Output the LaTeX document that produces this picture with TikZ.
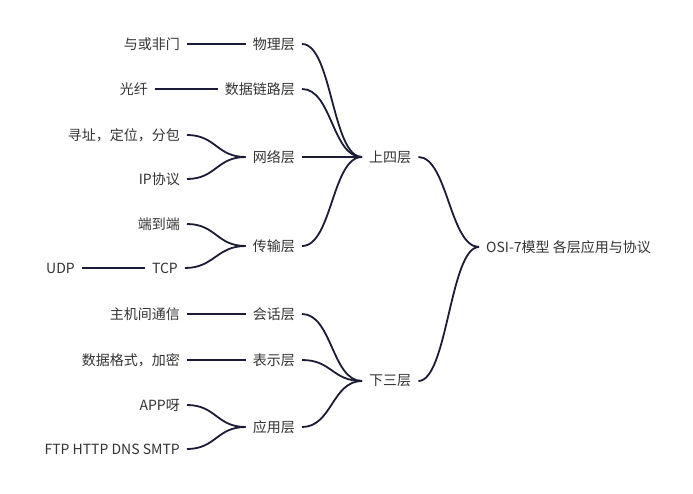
\documentclass[tikz,border=0pt]{standalone}
\usepackage{fontspec}
\setmainfont{Noto Sans CJK SC}
\definecolor{linec}{HTML}{1C1C36}
\definecolor{textc}{HTML}{333333}
\begin{document}
\begin{tikzpicture}[x=1pt,y=-1pt,
  lbl/.style={font=\fontsize{14}{16}\selectfont,text=textc,inner xsep=7pt,inner ysep=0pt},
  conn/.style={draw=linec,line width=1.8pt},
]
\useasboundingbox (0,0) rectangle (693,494);
% root and level 1
\node[lbl,anchor=west] (root) at (479,247) {OSI-7模型 各层应用与协议};
\node[lbl,anchor=west] (up) at (362,157) {上四层};
\node[lbl,anchor=west] (down) at (362,381) {下三层};
% layers
\node[lbl,anchor=east] (l1) at (302,44) {物理层};
\node[lbl,anchor=east] (l2) at (302,89) {数据链路层};
\node[lbl,anchor=east] (l3) at (302,157) {网络层};
\node[lbl,anchor=east] (l4) at (302,246) {传输层};
\node[lbl,anchor=east] (l5) at (302,314) {会话层};
\node[lbl,anchor=east] (l6) at (302,360) {表示层};
\node[lbl,anchor=east] (l7) at (302,427) {应用层};
% leaves
\node[lbl,anchor=east] (a1) at (187,44) {与或非门};
\node[lbl,anchor=east] (a2) at (155,89) {光纤};
\node[lbl,anchor=east] (a3) at (187,135) {寻址，定位，分包};
\node[lbl,anchor=east] (a4) at (187,179) {IP协议};
\node[lbl,anchor=east] (a5) at (187,224) {端到端};
\node[lbl,anchor=east] (a6) at (185,268) {TCP};
\node[lbl,anchor=east] (a7) at (82,268) {UDP};
\node[lbl,anchor=east] (a8) at (187,314) {主机间通信};
\node[lbl,anchor=east] (a9) at (187,360) {数据格式，加密};
\node[lbl,anchor=east] (a10) at (187,405) {APP呀};
\node[lbl,anchor=east] (a11) at (187,449) {FTP HTTP DNS SMTP};
% root connections
\draw[conn] (up.east) .. controls +(29,0) and +(-29,0) .. (root.west);
\draw[conn] (down.east) .. controls +(29,0) and +(-29,0) .. (root.west);
% level-1 connections
\foreach \n in {l1,l2,l3,l4}
  \draw[conn] (\n.east) .. controls +(30,0) and +(-30,0) .. (up.west);
\foreach \n in {l5,l6,l7}
  \draw[conn] (\n.east) .. controls +(30,0) and +(-30,0) .. (down.west);
% leaf connections
\draw[conn] (a1.east) -- (l1.west);
\draw[conn] (a2.east) -- (l2.west);
\draw[conn] (a3.east) .. controls +(29,0) and +(-29,0) .. (l3.west);
\draw[conn] (a4.east) .. controls +(29,0) and +(-29,0) .. (l3.west);
\draw[conn] (a5.east) .. controls +(29,0) and +(-29,0) .. (l4.west);
\draw[conn] (a6.east) .. controls +(29,0) and +(-29,0) .. (l4.west);
\draw[conn] (a7.east) -- (a6.west);
\draw[conn] (a8.east) -- (l5.west);
\draw[conn] (a9.east) -- (l6.west);
\draw[conn] (a10.east) .. controls +(29,0) and +(-29,0) .. (l7.west);
\draw[conn] (a11.east) .. controls +(29,0) and +(-29,0) .. (l7.west);
\end{tikzpicture}
\end{document}
